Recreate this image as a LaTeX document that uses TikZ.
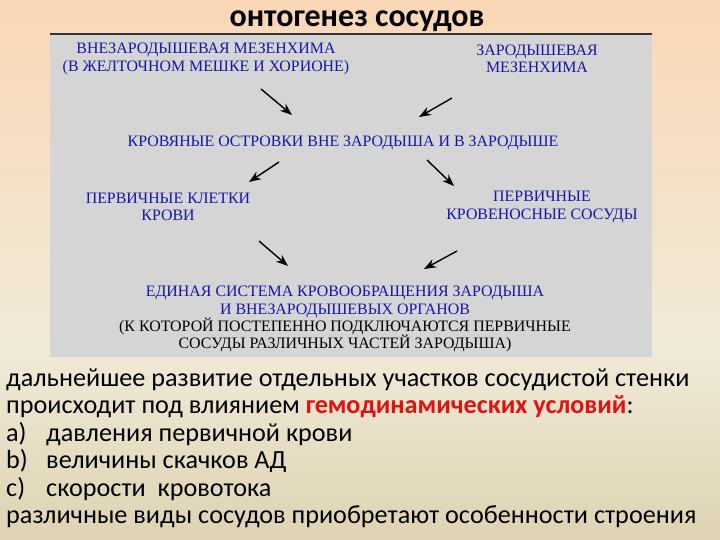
\documentclass[tikz,border=0pt]{standalone}
\usepackage{fontspec}
\setmainfont{Carlito}
\newfontfamily\panelserif{Liberation Serif}
\usetikzlibrary{arrows.meta}
\definecolor{peach}{RGB}{250,215,182}
\definecolor{cream}{RGB}{240,234,216}
\definecolor{tanbg}{RGB}{222,211,178}
\definecolor{panelgray}{RGB}{213,213,213}
\definecolor{pblue}{RGB}{22,22,168}
\definecolor{hred}{RGB}{226,16,16}
\pgfdeclareverticalshading{bgshade}{100bp}{color(0bp)=(tanbg); color(25bp)=(tanbg); color(43bp)=(cream); color(75bp)=(peach); color(100bp)=(peach)}
\tikzset{
  ptext/.style={align=center, inner sep=0pt, text=pblue, font=\panelserif\fontsize{15.9}{17.5}\selectfont},
  pblack/.style={ptext, text=black},
  arr/.style={line width=1.4pt, -{Stealth[length=12pt,width=9pt]}},
  btext/.style={anchor=base west, inner sep=0pt, font=\fontsize{26.2}{27}\selectfont},
}
\begin{document}
\begin{tikzpicture}[x=1pt,y=-1pt]
\useasboundingbox (0,0) rectangle (720,540);
\shade[shading=bgshade] (0,0) rectangle (720,540);
\fill[panelgray] (50,34) rectangle (652,357);
\draw[line width=1.2pt, black!80] (50,34) -- (652,34);
\node[inner sep=0pt, anchor=base, font=\bfseries\fontsize{32}{34}\selectfont] (title) at (357,27) {онтогенез сосудов};
% panel
\node[ptext] (vnez) at (206,59) {ВНЕЗАРОДЫШЕВАЯ МЕЗЕНХИМА\\(В ЖЕЛТОЧНОМ МЕШКЕ И ХОРИОНЕ)};
\node[ptext] (zar) at (537,59) {ЗАРОДЫШЕВАЯ\\МЕЗЕНХИМА};
\node[ptext] (ostr) at (343,143) {КРОВЯНЫЕ ОСТРОВКИ ВНЕ ЗАРОДЫША И В ЗАРОДЫШЕ};
\node[ptext] (klet) at (168,207) {ПЕРВИЧНЫЕ КЛЕТКИ\\КРОВИ};
\node[ptext] (sos) at (542,207) {ПЕРВИЧНЫЕ\\КРОВЕНОСНЫЕ СОСУДЫ};
\node[ptext] (ed) at (345,302) {ЕДИНАЯ СИСТЕМА КРОВООБРАЩЕНИЯ ЗАРОДЫША\\И ВНЕЗАРОДЫШЕВЫХ ОРГАНОВ};
\node[pblack] (kkot) at (345,335) {(К КОТОРОЙ ПОСТЕПЕННО ПОДКЛЮЧАЮТСЯ ПЕРВИЧНЫЕ\\СОСУДЫ РАЗЛИЧНЫХ ЧАСТЕЙ ЗАРОДЫША)};
% arrow end points
\coordinate (a1s) at (261,89);  \coordinate (a1e) at (292,115);
\coordinate (a2s) at (452,98);  \coordinate (a2e) at (419,117);
\coordinate (a3s) at (279,162); \coordinate (a3e) at (249,182);
\coordinate (a4s) at (427,160); \coordinate (a4e) at (454,186);
\coordinate (a5s) at (259,241); \coordinate (a5e) at (288,266);
\coordinate (a6s) at (457,251); \coordinate (a6e) at (424,269);
\draw[arr] (a1s) -- (a1e);
\draw[arr] (a2s) -- (a2e);
\draw[arr] (a3s) -- (a3e);
\draw[arr] (a4s) -- (a4e);
\draw[arr] (a5s) -- (a5e);
\draw[arr] (a6s) -- (a6e);
% bottom text
\node[btext] (l1) at (6,386) {дальнейшее развитие отдельных участков сосудистой стенки};
\node[btext] (l2) at (6,413.5) {происходит под влиянием \textcolor{hred}{\bfseries гемодинамических условий}:};
\node[btext] (l3a) at (6,441) {a)};
\node[btext] (l3) at (46,441) {давления первичной крови};
\node[btext] (l4a) at (6,468.5) {b)};
\node[btext] (l4) at (46,468.5) {величины скачков АД};
\node[btext] (l5a) at (6,496) {c)};
\node[btext] (l5) at (46,496) {скорости\ \ кровотока};
\node[btext] (l6) at (6,523.5) {различные виды сосудов приобретают особенности строения};
\end{tikzpicture}
\end{document}
